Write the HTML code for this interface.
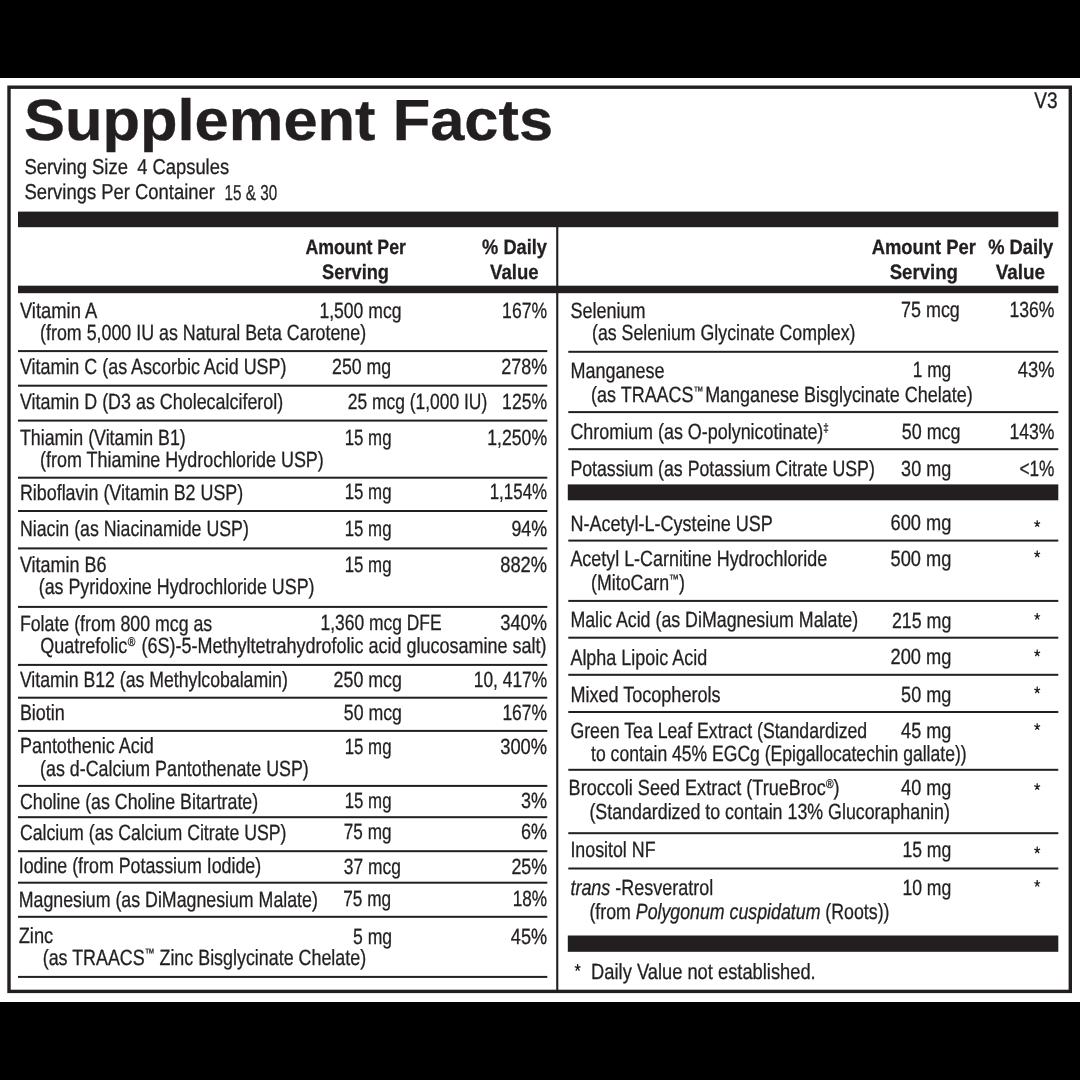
<!DOCTYPE html>
<html lang="en"><head><meta charset="utf-8"><title>Supplement Facts</title>
<style>
html,body{margin:0;padding:0;background:#fff;}
body{width:1080px;height:1080px;overflow:hidden;}
svg{display:block;will-change:transform;}
text{font-family:"Liberation Sans",sans-serif;fill:#231f20;stroke:#231f20;stroke-width:0.3px;white-space:pre;}
.b{font-weight:bold}.i{font-style:italic}
</style></head><body>
<svg width="1080" height="1080" viewBox="0 0 1080 1080" text-rendering="geometricPrecision">
<rect x="0" y="0" width="1080" height="1080" fill="#fff"/>
<rect x="9.00" y="87.20" width="1061.30" height="904.20" fill="none" stroke="#231f20" stroke-width="3.40"/>
<rect x="0.00" y="0.00" width="1080.00" height="78.00" fill="#000"/>
<rect x="0.00" y="1002.00" width="1080.00" height="78.00" fill="#000"/>
<rect x="18.00" y="211.60" width="1040.30" height="15.60" fill="#231f20"/>
<rect x="18.00" y="285.70" width="1040.30" height="7.50" fill="#231f20"/>
<rect x="567.80" y="484.40" width="490.50" height="15.90" fill="#231f20"/>
<rect x="567.80" y="935.50" width="490.50" height="16.30" fill="#231f20"/>
<rect x="556.20" y="226.00" width="2.10" height="765.00" fill="#231f20"/>
<rect x="18.00" y="350.10" width="529.30" height="2.00" fill="#231f20"/>
<rect x="18.00" y="384.70" width="529.30" height="2.00" fill="#231f20"/>
<rect x="18.00" y="419.60" width="529.30" height="2.00" fill="#231f20"/>
<rect x="18.00" y="476.70" width="529.30" height="2.00" fill="#231f20"/>
<rect x="18.00" y="510.00" width="529.30" height="2.00" fill="#231f20"/>
<rect x="18.00" y="547.40" width="529.30" height="2.00" fill="#231f20"/>
<rect x="18.00" y="605.90" width="529.30" height="2.00" fill="#231f20"/>
<rect x="18.00" y="663.90" width="529.30" height="2.00" fill="#231f20"/>
<rect x="18.00" y="696.70" width="529.30" height="2.00" fill="#231f20"/>
<rect x="18.00" y="729.90" width="529.30" height="2.00" fill="#231f20"/>
<rect x="18.00" y="784.90" width="529.30" height="2.00" fill="#231f20"/>
<rect x="18.00" y="816.20" width="529.30" height="2.00" fill="#231f20"/>
<rect x="18.00" y="850.20" width="529.30" height="2.00" fill="#231f20"/>
<rect x="18.00" y="881.70" width="529.30" height="2.00" fill="#231f20"/>
<rect x="18.00" y="915.80" width="529.30" height="2.00" fill="#231f20"/>
<rect x="18.00" y="975.90" width="529.30" height="2.00" fill="#231f20"/>
<rect x="568.30" y="350.80" width="490.00" height="2.00" fill="#231f20"/>
<rect x="568.30" y="411.10" width="490.00" height="2.00" fill="#231f20"/>
<rect x="568.30" y="448.20" width="490.00" height="2.00" fill="#231f20"/>
<rect x="568.30" y="539.60" width="490.00" height="2.00" fill="#231f20"/>
<rect x="568.30" y="599.90" width="490.00" height="2.00" fill="#231f20"/>
<rect x="568.30" y="636.70" width="490.00" height="2.00" fill="#231f20"/>
<rect x="568.30" y="673.80" width="490.00" height="2.00" fill="#231f20"/>
<rect x="568.30" y="711.00" width="490.00" height="2.00" fill="#231f20"/>
<rect x="568.30" y="768.80" width="490.00" height="2.00" fill="#231f20"/>
<rect x="568.30" y="832.20" width="490.00" height="2.00" fill="#231f20"/>
<rect x="568.30" y="867.50" width="490.00" height="2.00" fill="#231f20"/>
<text xml:space="preserve" transform="translate(23.90 140.00) scale(1.0595 1)" font-size="58.00"><tspan class="b">Supplement Facts</tspan></text>
<text xml:space="preserve" transform="translate(1034.20 108.40) scale(0.8467 1)" font-size="22.50">V3</text>
<text xml:space="preserve" transform="translate(24.40 174.10) scale(0.8575 1)" font-size="21.50">Serving Size</text>
<text xml:space="preserve" transform="translate(137.20 174.10) scale(0.8544 1)" font-size="21.50">4 Capsules</text>
<text xml:space="preserve" transform="translate(24.40 199.10) scale(0.8571 1)" font-size="21.50">Servings Per Container</text>
<text xml:space="preserve" transform="translate(224.60 199.60) scale(0.7084 1)" font-size="21.50">15 &amp; 30</text>
<text xml:space="preserve" transform="translate(305.40 253.80) scale(0.8535 1)" font-size="20.80"><tspan class="b">Amount Per</tspan></text>
<text xml:space="preserve" transform="translate(322.10 278.80) scale(0.8769 1)" font-size="20.80"><tspan class="b">Serving</tspan></text>
<text xml:space="preserve" transform="translate(482.10 253.80) scale(0.8772 1)" font-size="20.80"><tspan class="b">% Daily</tspan></text>
<text xml:space="preserve" transform="translate(490.10 278.80) scale(0.8924 1)" font-size="20.80"><tspan class="b">Value</tspan></text>
<text xml:space="preserve" transform="translate(871.70 253.80) scale(0.8848 1)" font-size="20.80"><tspan class="b">Amount Per</tspan></text>
<text xml:space="preserve" transform="translate(889.70 278.80) scale(0.8952 1)" font-size="20.80"><tspan class="b">Serving</tspan></text>
<text xml:space="preserve" transform="translate(988.20 253.80) scale(0.8799 1)" font-size="20.80"><tspan class="b">% Daily</tspan></text>
<text xml:space="preserve" transform="translate(995.70 278.80) scale(0.9071 1)" font-size="20.80"><tspan class="b">Value</tspan></text>
<text xml:space="preserve" transform="translate(19.90 317.50) scale(0.8354 1)" font-size="22.00">Vitamin A</text>
<text xml:space="preserve" transform="translate(40.10 339.80) scale(0.8104 1)" font-size="22.00">(from 5,000 IU as Natural Beta Carotene)</text>
<text xml:space="preserve" transform="translate(19.90 373.90) scale(0.8146 1)" font-size="22.00">Vitamin C (as Ascorbic Acid USP)</text>
<text xml:space="preserve" transform="translate(19.90 409.10) scale(0.8137 1)" font-size="22.00">Vitamin D (D3 as Cholecalciferol)</text>
<text xml:space="preserve" transform="translate(19.90 445.00) scale(0.8093 1)" font-size="22.00">Thiamin (Vitamin B1)</text>
<text xml:space="preserve" transform="translate(40.10 466.90) scale(0.8151 1)" font-size="22.00">(from Thiamine Hydrochloride USP)</text>
<text xml:space="preserve" transform="translate(19.90 499.65) scale(0.8129 1)" font-size="22.00">Riboflavin (Vitamin B2 USP)</text>
<text xml:space="preserve" transform="translate(19.90 535.75) scale(0.8070 1)" font-size="22.00">Niacin (as Niacinamide USP)</text>
<text xml:space="preserve" transform="translate(19.90 572.15) scale(0.8172 1)" font-size="22.00">Vitamin B6</text>
<text xml:space="preserve" transform="translate(38.70 594.45) scale(0.8114 1)" font-size="22.00">(as Pyridoxine Hydrochloride USP)</text>
<text xml:space="preserve" transform="translate(19.90 630.50) scale(0.8066 1)" font-size="22.00">Folate (from 800 mcg as</text>
<text xml:space="preserve" transform="translate(40.20 652.80) scale(0.8181 1)" font-size="22.00">Quatrefolic<tspan font-size="2.64"> </tspan><tspan font-size="12.54" dy="-7.26">®</tspan><tspan font-size="4.40" dy="7.26"> </tspan> (6S)-5-Methyltetrahydrofolic acid glucosamine salt)</text>
<text xml:space="preserve" transform="translate(19.90 686.60) scale(0.8035 1)" font-size="22.00">Vitamin B12 (as Methylcobalamin)</text>
<text xml:space="preserve" transform="translate(19.90 720.30) scale(0.8160 1)" font-size="22.00">Biotin</text>
<text xml:space="preserve" transform="translate(19.90 753.40) scale(0.8170 1)" font-size="22.00">Pantothenic Acid</text>
<text xml:space="preserve" transform="translate(40.10 776.00) scale(0.8108 1)" font-size="22.00">(as d-Calcium Pantothenate USP)</text>
<text xml:space="preserve" transform="translate(19.90 808.70) scale(0.8086 1)" font-size="22.00">Choline (as Choline Bitartrate)</text>
<text xml:space="preserve" transform="translate(19.90 839.50) scale(0.8047 1)" font-size="22.00">Calcium (as Calcium Citrate USP)</text>
<text xml:space="preserve" transform="translate(18.70 873.20) scale(0.8095 1)" font-size="22.00">Iodine (from Potassium Iodide)</text>
<text xml:space="preserve" transform="translate(18.70 906.50) scale(0.8074 1)" font-size="22.00">Magnesium (as DiMagnesium Malate)</text>
<text xml:space="preserve" transform="translate(18.70 943.20) scale(0.8302 1)" font-size="22.00">Zinc</text>
<text xml:space="preserve" transform="translate(42.70 964.50) scale(0.8125 1)" font-size="22.00">(as TRAACS<tspan font-size="12.10" dy="-7.26">™</tspan><tspan dy="7.26"> Zinc Bisglycinate Chelate)</tspan></text>
<text xml:space="preserve" transform="translate(319.40 317.50) scale(0.7993 1)" font-size="22.00">1,500 mcg</text>
<text xml:space="preserve" transform="translate(332.10 373.90) scale(0.8055 1)" font-size="22.00">250 mg</text>
<text xml:space="preserve" transform="translate(347.70 409.10) scale(0.7923 1)" font-size="22.00">25 mcg (1,000 IU)</text>
<text xml:space="preserve" transform="translate(344.70 445.00) scale(0.7655 1)" font-size="22.00">15 mg</text>
<text xml:space="preserve" transform="translate(344.70 498.90) scale(0.7655 1)" font-size="22.00">15 mg</text>
<text xml:space="preserve" transform="translate(344.70 535.75) scale(0.7655 1)" font-size="22.00">15 mg</text>
<text xml:space="preserve" transform="translate(344.70 572.15) scale(0.7655 1)" font-size="22.00">15 mg</text>
<text xml:space="preserve" transform="translate(320.50 629.70) scale(0.7924 1)" font-size="22.00">1,360 mcg DFE</text>
<text xml:space="preserve" transform="translate(333.60 686.60) scale(0.8095 1)" font-size="22.00">250 mcg</text>
<text xml:space="preserve" transform="translate(343.80 720.30) scale(0.8054 1)" font-size="22.00">50 mcg</text>
<text xml:space="preserve" transform="translate(344.70 754.20) scale(0.7655 1)" font-size="22.00">15 mg</text>
<text xml:space="preserve" transform="translate(344.70 808.30) scale(0.7655 1)" font-size="22.00">15 mg</text>
<text xml:space="preserve" transform="translate(343.80 838.80) scale(0.7802 1)" font-size="22.00">75 mg</text>
<text xml:space="preserve" transform="translate(343.80 873.60) scale(0.7902 1)" font-size="22.00">37 mcg</text>
<text xml:space="preserve" transform="translate(343.30 905.50) scale(0.7818 1)" font-size="22.00">75 mg</text>
<text xml:space="preserve" transform="translate(353.00 943.60) scale(0.7995 1)" font-size="22.00">5 mg</text>
<text xml:space="preserve" transform="translate(502.10 317.50) scale(0.7996 1)" font-size="22.00">167%</text>
<text xml:space="preserve" transform="translate(501.20 373.90) scale(0.8156 1)" font-size="22.00">278%</text>
<text xml:space="preserve" transform="translate(502.10 409.10) scale(0.7996 1)" font-size="22.00">125%</text>
<text xml:space="preserve" transform="translate(487.20 445.00) scale(0.8027 1)" font-size="22.00">1,250%</text>
<text xml:space="preserve" transform="translate(489.70 498.90) scale(0.7692 1)" font-size="22.00">1,154%</text>
<text xml:space="preserve" transform="translate(511.40 535.75) scale(0.8110 1)" font-size="22.00">94%</text>
<text xml:space="preserve" transform="translate(500.20 572.15) scale(0.8334 1)" font-size="22.00">882%</text>
<text xml:space="preserve" transform="translate(500.20 629.70) scale(0.8334 1)" font-size="22.00">340%</text>
<text xml:space="preserve" transform="translate(473.80 686.60) scale(0.7884 1)" font-size="22.00">10, 417%</text>
<text xml:space="preserve" transform="translate(502.40 720.30) scale(0.7943 1)" font-size="22.00">167%</text>
<text xml:space="preserve" transform="translate(500.20 754.20) scale(0.8334 1)" font-size="22.00">300%</text>
<text xml:space="preserve" transform="translate(521.10 808.30) scale(0.8179 1)" font-size="22.00">3%</text>
<text xml:space="preserve" transform="translate(521.10 838.80) scale(0.8179 1)" font-size="22.00">6%</text>
<text xml:space="preserve" transform="translate(511.40 873.60) scale(0.8110 1)" font-size="22.00">25%</text>
<text xml:space="preserve" transform="translate(512.70 905.50) scale(0.7814 1)" font-size="22.00">18%</text>
<text xml:space="preserve" transform="translate(510.80 943.60) scale(0.8246 1)" font-size="22.00">45%</text>
<text xml:space="preserve" transform="translate(570.40 317.50) scale(0.8188 1)" font-size="22.00">Selenium</text>
<text xml:space="preserve" transform="translate(592.00 340.10) scale(0.8071 1)" font-size="22.00">(as Selenium Glycinate Complex)</text>
<text xml:space="preserve" transform="translate(570.40 377.50) scale(0.8185 1)" font-size="22.00">Manganese</text>
<text xml:space="preserve" transform="translate(591.10 401.80) scale(0.8162 1)" font-size="22.00">(as TRAACS<tspan font-size="12.10" dy="-7.26">™</tspan><tspan font-size="7.70" dy="7.26"> </tspan>Manganese Bisglycinate Chelate)</text>
<text xml:space="preserve" transform="translate(570.40 438.80) scale(0.8144 1)" font-size="22.00">Chromium (as O-polynicotinate)<tspan font-size="12.10" dy="-7.26">‡</tspan></text>
<text xml:space="preserve" transform="translate(570.40 475.50) scale(0.8058 1)" font-size="22.00">Potassium (as Potassium Citrate USP)</text>
<text xml:space="preserve" transform="translate(570.40 530.90) scale(0.8196 1)" font-size="22.00">N-Acetyl-L-Cysteine USP</text>
<text xml:space="preserve" transform="translate(570.40 565.70) scale(0.8141 1)" font-size="22.00">Acetyl L-Carnitine Hydrochloride</text>
<text xml:space="preserve" transform="translate(591.10 590.20) scale(0.8078 1)" font-size="22.00">(MitoCarn<tspan font-size="12.10" dy="-7.26">™</tspan><tspan dy="7.26">)</tspan></text>
<text xml:space="preserve" transform="translate(570.40 627.40) scale(0.8089 1)" font-size="22.00">Malic Acid (as DiMagnesium Malate)</text>
<text xml:space="preserve" transform="translate(570.40 664.70) scale(0.8165 1)" font-size="22.00">Alpha Lipoic Acid</text>
<text xml:space="preserve" transform="translate(570.40 701.60) scale(0.8201 1)" font-size="22.00">Mixed Tocopherols</text>
<text xml:space="preserve" transform="translate(570.40 738.40) scale(0.8045 1)" font-size="22.00">Green Tea Leaf Extract (Standardized</text>
<text xml:space="preserve" transform="translate(591.10 760.50) scale(0.7975 1)" font-size="22.00">to contain 45% EGCg (Epigallocatechin gallate))</text>
<text xml:space="preserve" transform="translate(568.60 795.00) scale(0.8210 1)" font-size="22.00">Broccoli Seed Extract (TrueBroc<tspan font-size="12.54" dy="-7.26">®</tspan><tspan dy="7.26">)</tspan></text>
<text xml:space="preserve" transform="translate(589.40 819.20) scale(0.8098 1)" font-size="22.00">(Standardized to contain 13% Glucoraphanin)</text>
<text xml:space="preserve" transform="translate(570.40 856.50) scale(0.8094 1)" font-size="22.00">Inositol NF</text>
<text xml:space="preserve" transform="translate(570.40 894.90) scale(0.8168 1)" font-size="22.00"><tspan class="i">trans</tspan> -Resveratrol</text>
<text xml:space="preserve" transform="translate(589.40 918.80) scale(0.8074 1)" font-size="22.00">(from <tspan class="i">Polygonum cuspidatum</tspan> (Roots))</text>
<text xml:space="preserve" transform="translate(591.10 978.80) scale(0.8322 1)" font-size="22.00">Daily Value not established.</text>
<text xml:space="preserve" transform="translate(901.10 317.20) scale(0.8137 1)" font-size="22.00">75 mcg</text>
<text xml:space="preserve" transform="translate(912.70 377.30) scale(0.7872 1)" font-size="22.00">1 mg</text>
<text xml:space="preserve" transform="translate(901.70 438.50) scale(0.8151 1)" font-size="22.00">50 mcg</text>
<text xml:space="preserve" transform="translate(901.10 475.50) scale(0.8195 1)" font-size="22.00">30 mg</text>
<text xml:space="preserve" transform="translate(890.50 530.10) scale(0.8287 1)" font-size="22.00">600 mg</text>
<text xml:space="preserve" transform="translate(890.50 565.70) scale(0.8287 1)" font-size="22.00">500 mg</text>
<text xml:space="preserve" transform="translate(891.90 628.40) scale(0.8096 1)" font-size="22.00">215 mg</text>
<text xml:space="preserve" transform="translate(890.50 664.40) scale(0.8287 1)" font-size="22.00">200 mg</text>
<text xml:space="preserve" transform="translate(901.10 701.60) scale(0.8211 1)" font-size="22.00">50 mg</text>
<text xml:space="preserve" transform="translate(901.10 738.10) scale(0.8211 1)" font-size="22.00">45 mg</text>
<text xml:space="preserve" transform="translate(901.10 794.70) scale(0.8211 1)" font-size="22.00">40 mg</text>
<text xml:space="preserve" transform="translate(902.40 856.50) scale(0.7998 1)" font-size="22.00">15 mg</text>
<text xml:space="preserve" transform="translate(902.40 894.70) scale(0.7998 1)" font-size="22.00">10 mg</text>
<text xml:space="preserve" transform="translate(1009.40 317.20) scale(0.8014 1)" font-size="22.00">136%</text>
<text xml:space="preserve" transform="translate(1017.70 377.30) scale(0.8359 1)" font-size="22.00">43%</text>
<text xml:space="preserve" transform="translate(1009.40 438.50) scale(0.8014 1)" font-size="22.00">143%</text>
<text xml:space="preserve" transform="translate(1019.40 475.50) scale(0.7863 1)" font-size="22.00">&lt;1%</text>
<path d="M1037.20 523.80L1037.20 520.20M1037.20 523.80L1040.11 522.69M1037.20 523.80L1034.29 522.69M1037.20 523.80L1039.00 526.71M1037.20 523.80L1035.40 526.71" stroke="#231f20" stroke-width="1.25" fill="none"/>
<path d="M1037.20 554.20L1037.20 550.60M1037.20 554.20L1040.11 553.09M1037.20 554.20L1034.29 553.09M1037.20 554.20L1039.00 557.11M1037.20 554.20L1035.40 557.11" stroke="#231f20" stroke-width="1.25" fill="none"/>
<path d="M1037.20 616.60L1037.20 613.00M1037.20 616.60L1040.11 615.49M1037.20 616.60L1034.29 615.49M1037.20 616.60L1039.00 619.51M1037.20 616.60L1035.40 619.51" stroke="#231f20" stroke-width="1.25" fill="none"/>
<path d="M1037.20 653.20L1037.20 649.60M1037.20 653.20L1040.11 652.09M1037.20 653.20L1034.29 652.09M1037.20 653.20L1039.00 656.11M1037.20 653.20L1035.40 656.11" stroke="#231f20" stroke-width="1.25" fill="none"/>
<path d="M1037.20 690.20L1037.20 686.60M1037.20 690.20L1040.11 689.09M1037.20 690.20L1034.29 689.09M1037.20 690.20L1039.00 693.11M1037.20 690.20L1035.40 693.11" stroke="#231f20" stroke-width="1.25" fill="none"/>
<path d="M1037.20 726.80L1037.20 723.20M1037.20 726.80L1040.11 725.69M1037.20 726.80L1034.29 725.69M1037.20 726.80L1039.00 729.71M1037.20 726.80L1035.40 729.71" stroke="#231f20" stroke-width="1.25" fill="none"/>
<path d="M1037.20 786.80L1037.20 783.20M1037.20 786.80L1040.11 785.69M1037.20 786.80L1034.29 785.69M1037.20 786.80L1039.00 789.71M1037.20 786.80L1035.40 789.71" stroke="#231f20" stroke-width="1.25" fill="none"/>
<path d="M1037.20 850.20L1037.20 846.60M1037.20 850.20L1040.11 849.09M1037.20 850.20L1034.29 849.09M1037.20 850.20L1039.00 853.11M1037.20 850.20L1035.40 853.11" stroke="#231f20" stroke-width="1.25" fill="none"/>
<path d="M1037.20 883.60L1037.20 880.00M1037.20 883.60L1040.11 882.49M1037.20 883.60L1034.29 882.49M1037.20 883.60L1039.00 886.51M1037.20 883.60L1035.40 886.51" stroke="#231f20" stroke-width="1.25" fill="none"/>
<path d="M577.65 967.70L577.65 964.10M577.65 967.70L580.56 966.59M577.65 967.70L574.74 966.59M577.65 967.70L579.45 970.61M577.65 967.70L575.85 970.61" stroke="#231f20" stroke-width="1.25" fill="none"/>
</svg>
</body></html>
